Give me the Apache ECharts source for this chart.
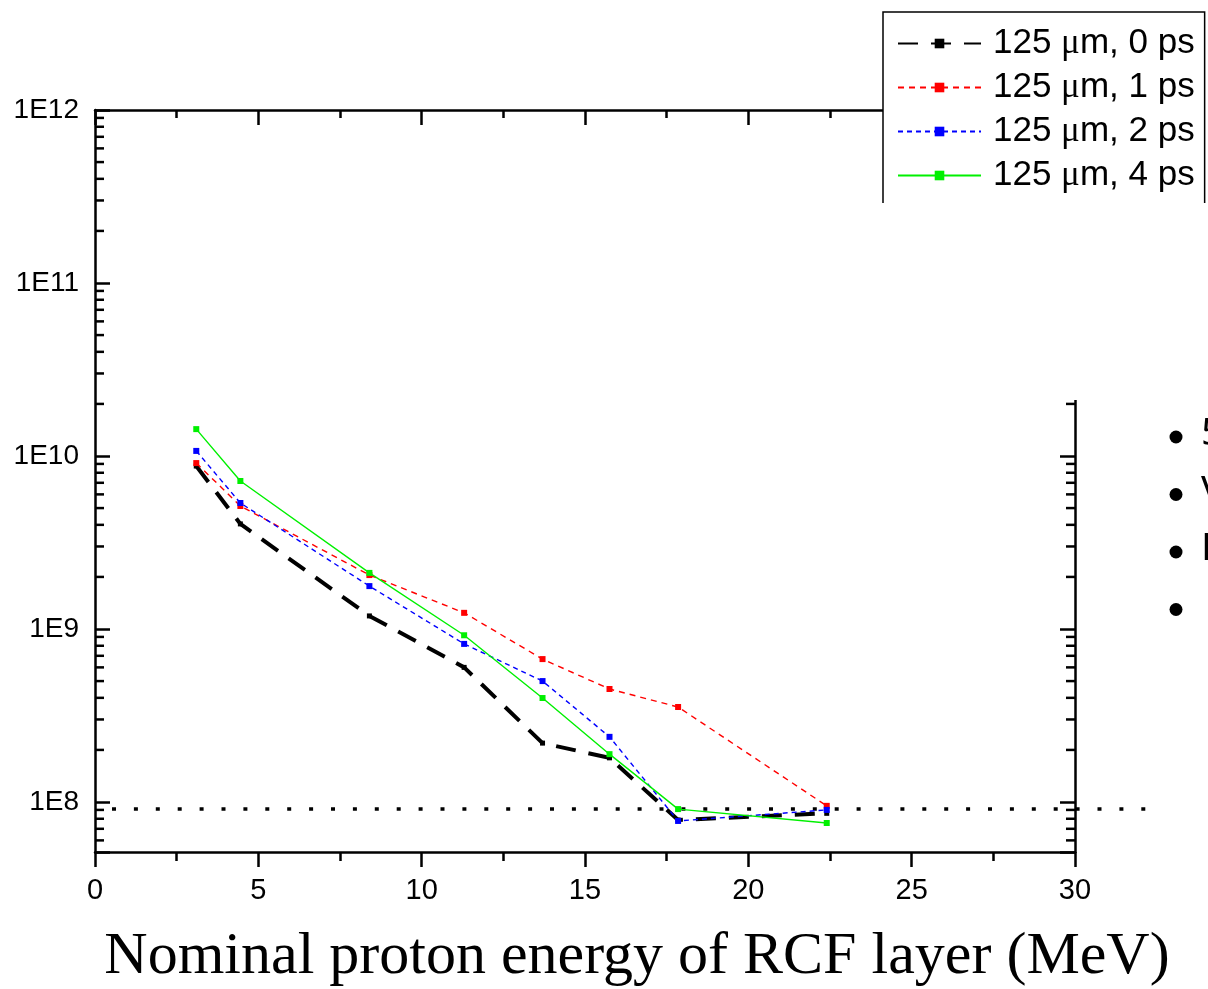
<!DOCTYPE html>
<html>
<head>
<meta charset="utf-8">
<script src="https://cdn.jsdelivr.net/npm/echarts@6/dist/echarts.min.js"></script>
<style>html,body{margin:0;padding:0;background:#fff;}#chart{width:1208px;height:989px;}</style>
</head>
<body>
<div id="chart"></div>
<script>
// ---- data ----
var energies = [3.1, 4.45, 8.4, 11.3, 13.7, 15.75, 17.85, 22.4];
var seriesNames = ['125 μm, 0 ps', '125 μm, 1 ps', '125 μm, 2 ps', '125 μm, 4 ps'];
var s0ps = [8.75e9, 4.05e9, 1.19e9, 6.0e8, 2.19e8, 1.8e8, 7.87e7, 8.6e7];
var s1ps = [9.1e9, 5.14e9, 2.05e9, 1.24e9, 6.7e8, 4.5e8, 3.54e8, 9.5e7];
var s2ps = [1.07e10, 5.35e9, 1.77e9, 8.2e8, 5.0e8, 2.38e8, 7.77e7, 9.0e7];
var s4ps = [1.43e10, 7.17e9, 2.11e9, 9.2e8, 3.99e8, 1.89e8, 9.1e7, 7.56e7];
var noiseLevel = 9.2e7;
var yMin = 5.14e7, yMax = 1e12;
var xMin = 0, xMax = 30, xOverlayMax = 32.14;
var minorMultipliers = [2, 3, 4, 5, 6, 7, 8, 9];
var decades = [1e7, 1e8, 1e9, 1e10, 1e11];
var bulletLetters = ['5', 'V', 'F', ''];
var xTitle = 'Nominal proton energy of RCF layer (MeV)';

function pairs(ys) { return energies.map(function (x, i) { return [x, ys[i]]; }); }

var minorTicks = [];
decades.forEach(function (d) {
  minorMultipliers.forEach(function (m) {
    var v = d * m;
    if (v > yMin && v < yMax) { minorTicks.push([xMin, v, 1]); minorTicks.push([xMax, v, -1]); }
  });
});

function pow10Label(v) {
  var e = Math.log10(v);
  var r = Math.round(e);
  return Math.abs(e - r) < 1e-6 ? '1E' + r : '';
}

var chart = echarts.init(document.getElementById('chart'), null, { renderer: 'canvas' });
var axisLineStyle = { color: '#000', width: 2.5 };
var labelFont = 'Liberation Sans, Arial, sans-serif';

var option = {
  backgroundColor: '#fff',
  animation: false,
  grid: [
    { left: 95, right: 133, top: 110, bottom: 137 },
    { left: 95, right: 61, top: 110, bottom: 137 }
  ],
  xAxis: [
    {
      type: 'value', gridIndex: 0, min: xMin, max: xMax, interval: 5, position: 'bottom',
      axisLine: { show: true, onZero: false, lineStyle: axisLineStyle },
      axisTick: { show: true, inside: false, length: 15, lineStyle: { color: '#000', width: 2.5 } },
      minorTick: { show: true, splitNumber: 2, length: 9, lineStyle: { color: '#000', width: 2.5 } },
      axisLabel: { color: '#000', fontSize: 29, fontFamily: labelFont, margin: 24 },
      splitLine: { show: false }
    },
    {
      type: 'value', gridIndex: 0, min: xMin, max: xMax, interval: 5, position: 'top',
      axisLine: { show: true, onZero: false, lineStyle: axisLineStyle },
      axisTick: { show: true, inside: true, length: 15, lineStyle: { color: '#000', width: 2.5 } },
      minorTick: { show: true, splitNumber: 2, length: 8, lineStyle: { color: '#000', width: 2.5 } },
      axisLabel: { show: false }, splitLine: { show: false }
    },
    { type: 'value', gridIndex: 1, min: xMin, max: xOverlayMax, show: false }
  ],
  yAxis: [
    {
      type: 'log', logBase: 10, gridIndex: 0, min: yMin, max: yMax, position: 'left',
      axisLine: { show: true, onZero: false, lineStyle: axisLineStyle },
      axisTick: { show: true, inside: true, length: 15, lineStyle: { color: '#000', width: 2.5 } },
      axisLabel: { color: '#000', fontSize: 28, fontFamily: labelFont, margin: 16, formatter: pow10Label },
      splitLine: { show: false }
    },
    {
      type: 'log', logBase: 10, gridIndex: 0, min: yMin, max: yMax, position: 'right',
      axisLine: { show: true, onZero: false, lineStyle: axisLineStyle },
      axisTick: { show: true, inside: true, length: 15, lineStyle: { color: '#000', width: 2.5 } },
      axisLabel: { show: false }, splitLine: { show: false }
    },
    { type: 'log', logBase: 10, gridIndex: 1, min: yMin, max: yMax, show: false }
  ],
  legend: {
    orient: 'vertical', left: 883, top: 12,
    padding: [14, 10, 30, 14], itemGap: 9,
    itemWidth: 83, itemHeight: 12,
    backgroundColor: '#fff', borderColor: '#000', borderWidth: 1.5,
    data: seriesNames,
    formatter: function (n) { return n.replace('μ', '{mu|μ}'); },
    textStyle: {
      color: '#000', fontSize: 35, fontFamily: labelFont, padding: [0, 0, 0, 7],
      rich: { mu: { fontSize: 35, fontFamily: 'Liberation Serif, serif', color: '#000' } }
    }
  },
  series: [
    {
      name: seriesNames[0], type: 'line', xAxisIndex: 0, yAxisIndex: 0, data: pairs(s0ps),
      symbol: 'rect', symbolSize: 5, itemStyle: { color: '#000' },
      lineStyle: { color: '#000', width: 4, type: [20, 13] }, z: 3
    },
    {
      name: seriesNames[1], type: 'line', xAxisIndex: 0, yAxisIndex: 0, data: pairs(s1ps),
      symbol: 'rect', symbolSize: 6, itemStyle: { color: '#ff0000' },
      lineStyle: { color: '#ff0000', width: 1.4, type: [6, 5] }, z: 4
    },
    {
      name: seriesNames[2], type: 'line', xAxisIndex: 0, yAxisIndex: 0, data: pairs(s2ps),
      symbol: 'rect', symbolSize: 6, itemStyle: { color: '#0000ff' },
      lineStyle: { color: '#0000ff', width: 1.4, type: [5, 4] }, z: 5
    },
    {
      name: seriesNames[3], type: 'line', xAxisIndex: 0, yAxisIndex: 0, data: pairs(s4ps),
      symbol: 'rect', symbolSize: 6, itemStyle: { color: '#00f000' },
      lineStyle: { color: '#00f000', width: 1.4, type: 'solid' }, z: 6
    },
    {
      name: 'minorTicks', type: 'custom', xAxisIndex: 0, yAxisIndex: 0, data: minorTicks,
      silent: true, clip: false, z: 2,
      renderItem: function (params, api) {
        var p = api.coord([api.value(0), api.value(1)]);
        var dir = api.value(2);
        return { type: 'line', shape: { x1: p[0], y1: p[1], x2: p[0] + 9 * dir, y2: p[1] },
                 style: { stroke: '#000', lineWidth: 2.5 } };
      }
    },
    {
      name: 'noise', type: 'line', xAxisIndex: 2, yAxisIndex: 2, data: [], z: 7,
      markLine: {
        silent: true, symbol: ['none', 'none'], label: { show: false },
        lineStyle: { color: '#000', width: 3.5, type: [4, 17.9], dashOffset: -17 },
        data: [{ yAxis: noiseLevel }]
      }
    }
  ],
  graphic: {
    elements: [
      { type: 'rect', left: 880, top: 203, z: 100, shape: { width: 330, height: 197 }, style: { fill: '#fff' } },
      { type: 'text', x: 637, y: 957, z: 101,
        style: { text: xTitle, font: '60px "Liberation Serif", "Times New Roman", serif', fill: '#000',
                 textAlign: 'center', textVerticalAlign: 'middle' } }
    ].concat(bulletLetters.map(function (t, i) {
      var by = 437 + i * 57.5;
      return { type: 'group', x: 0, y: 0, z: 101, children: [
        { type: 'circle', shape: { cx: 1176, cy: by, r: 6.5 }, style: { fill: '#000' } },
        { type: 'text', x: 1201, y: by - 3, style: { text: t, font: '39px "Noto Sans", sans-serif', fill: '#000',
          textVerticalAlign: 'middle' } }
      ] };
    }))
  }
};
chart.setOption(option);
</script>
</body>
</html>
